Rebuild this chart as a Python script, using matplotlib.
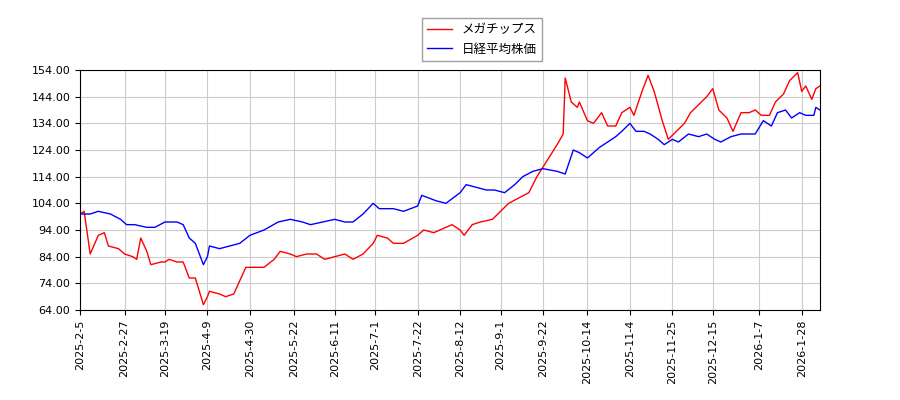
import numpy as np
import pandas as pd
import matplotlib
matplotlib.use('Agg')
import matplotlib.pyplot as plt

plt.rcParams['font.family'] = ['Noto Sans CJK JP', 'DejaVu Sans']

# メガチップス (relative)
red_dates = ['2025-02-05', '2025-02-07', '2025-02-10', '2025-02-14', '2025-02-17', '2025-02-19', '2025-02-24',
             '2025-02-27', '2025-03-03', '2025-03-05', '2025-03-07', '2025-03-10', '2025-03-12', '2025-03-17',
             '2025-03-19', '2025-03-21', '2025-03-25', '2025-03-28', '2025-03-31', '2025-04-03', '2025-04-07',
             '2025-04-09', '2025-04-10', '2025-04-15', '2025-04-18', '2025-04-22', '2025-04-25', '2025-04-28',
             '2025-05-02', '2025-05-07', '2025-05-12', '2025-05-15', '2025-05-20', '2025-05-23', '2025-05-28',
             '2025-06-02', '2025-06-06', '2025-06-11', '2025-06-16', '2025-06-20', '2025-06-25', '2025-06-30',
             '2025-07-02', '2025-07-07', '2025-07-10', '2025-07-15', '2025-07-22', '2025-07-25', '2025-07-30',
             '2025-08-05', '2025-08-08', '2025-08-12', '2025-08-14', '2025-08-18', '2025-08-22', '2025-08-28',
             '2025-09-01', '2025-09-05', '2025-09-10', '2025-09-15', '2025-09-19', '2025-09-24', '2025-09-29',
             '2025-10-02', '2025-10-03', '2025-10-06', '2025-10-09', '2025-10-10', '2025-10-14', '2025-10-17',
             '2025-10-21', '2025-10-24', '2025-10-28', '2025-10-31', '2025-11-04', '2025-11-06', '2025-11-10',
             '2025-11-13', '2025-11-16', '2025-11-20', '2025-11-23', '2025-11-27', '2025-12-01', '2025-12-04',
             '2025-12-08', '2025-12-12', '2025-12-15', '2025-12-18', '2025-12-22', '2025-12-25', '2025-12-29',
             '2026-01-02', '2026-01-05', '2026-01-08', '2026-01-12', '2026-01-15', '2026-01-19', '2026-01-22',
             '2026-01-26', '2026-01-28', '2026-01-30', '2026-02-02', '2026-02-04', '2026-02-06']
red_vals = [100, 101, 85, 92, 93, 88, 87, 85, 84, 83, 91, 86, 81, 82, 82, 83, 82, 82, 76, 76, 66, 69, 71, 70,
            69, 70, 75, 80, 80, 80, 83, 86, 85, 84, 85, 85, 83, 84, 85, 83, 85, 89, 92, 91, 89, 89, 92, 94, 93,
            95, 96, 94, 92, 96, 97, 98, 101, 104, 106, 108, 114, 120, 126, 130, 151, 142, 140, 142, 135, 134,
            138, 133, 133, 138, 140, 137, 146, 152, 146, 135, 128, 131, 134, 138, 141, 144, 147, 139, 136, 131,
            138, 138, 139, 137, 137, 142, 145, 150, 153, 146, 148, 143, 147, 148]

# 日経平均株価 (relative)
blue_dates = ['2025-02-05', '2025-02-10', '2025-02-14', '2025-02-20', '2025-02-25', '2025-02-28', '2025-03-04',
              '2025-03-10', '2025-03-14', '2025-03-19', '2025-03-25', '2025-03-28', '2025-03-31', '2025-04-03',
              '2025-04-07', '2025-04-09', '2025-04-10', '2025-04-15', '2025-04-20', '2025-04-25', '2025-04-30',
              '2025-05-07', '2025-05-14', '2025-05-20', '2025-05-26', '2025-05-30', '2025-06-05', '2025-06-11',
              '2025-06-16', '2025-06-20', '2025-06-25', '2025-06-30', '2025-07-03', '2025-07-10', '2025-07-15',
              '2025-07-22', '2025-07-24', '2025-07-31', '2025-08-05', '2025-08-12', '2025-08-15', '2025-08-20',
              '2025-08-25', '2025-08-29', '2025-09-03', '2025-09-08', '2025-09-12', '2025-09-17', '2025-09-22',
              '2025-09-29', '2025-10-03', '2025-10-07', '2025-10-10', '2025-10-14', '2025-10-20', '2025-10-24',
              '2025-10-28', '2025-10-31', '2025-11-04', '2025-11-07', '2025-11-11', '2025-11-14', '2025-11-18',
              '2025-11-21', '2025-11-25', '2025-11-28', '2025-12-03', '2025-12-08', '2025-12-12', '2025-12-16',
              '2025-12-19', '2025-12-24', '2025-12-29', '2026-01-05', '2026-01-09', '2026-01-13', '2026-01-16',
              '2026-01-20', '2026-01-23', '2026-01-27', '2026-01-30', '2026-02-03', '2026-02-04', '2026-02-06']
blue_vals = [100, 100, 101, 100, 98, 96, 96, 95, 95, 97, 97, 96, 91, 89, 81, 84, 88, 87, 88, 89, 92, 94, 97,
             98, 97, 96, 97, 98, 97, 97, 100, 104, 102, 102, 101, 103, 107, 105, 104, 108, 111, 110, 109, 109,
             108, 111, 114, 116, 117, 116, 115, 124, 123, 121, 125, 127, 129, 131, 134, 131, 131, 130, 128, 126,
             128, 127, 130, 129, 130, 128, 127, 129, 130, 130, 135, 133, 138, 139, 136, 138, 137, 137, 140, 139]

tick_dates = ['2025-02-05', '2025-02-27', '2025-03-19', '2025-04-09', '2025-04-30', '2025-05-22',
              '2025-06-11', '2025-07-01', '2025-07-22', '2025-08-12', '2025-09-01', '2025-09-22',
              '2025-10-14', '2025-11-04', '2025-11-25', '2025-12-15', '2026-01-07', '2026-01-28']

fig = plt.figure(figsize=(9, 4), dpi=100)
ax = fig.add_axes([0.089, 0.225, 0.822, 0.6])
ax.plot(pd.to_datetime(red_dates), red_vals, color='red', lw=1, label='メガチップス')
ax.plot(pd.to_datetime(blue_dates), blue_vals, color='blue', lw=1, label='日経平均株価')

ticks = pd.to_datetime(tick_dates)
ax.set_xticks(ticks)
ax.set_xticklabels([f'{d.year}-{d.month}-{d.day}' for d in ticks], rotation=90, fontsize=8,
                   family='DejaVu Sans')
ax.set_xlim(pd.Timestamp('2025-02-05'), pd.Timestamp('2026-02-06'))
ax.set_ylim(64, 154)
ax.set_yticks(np.arange(64, 155, 10))
ax.set_yticklabels([f'{v:.2f}' for v in np.arange(64, 155, 10)], fontsize=8, family='DejaVu Sans')
ax.grid(True, color='#cccccc', lw=0.8)
fig.legend(loc='upper center', bbox_to_anchor=(0.535, 0.97), fontsize=9, fancybox=False, edgecolor='#888888')
fig.savefig('out.png')
